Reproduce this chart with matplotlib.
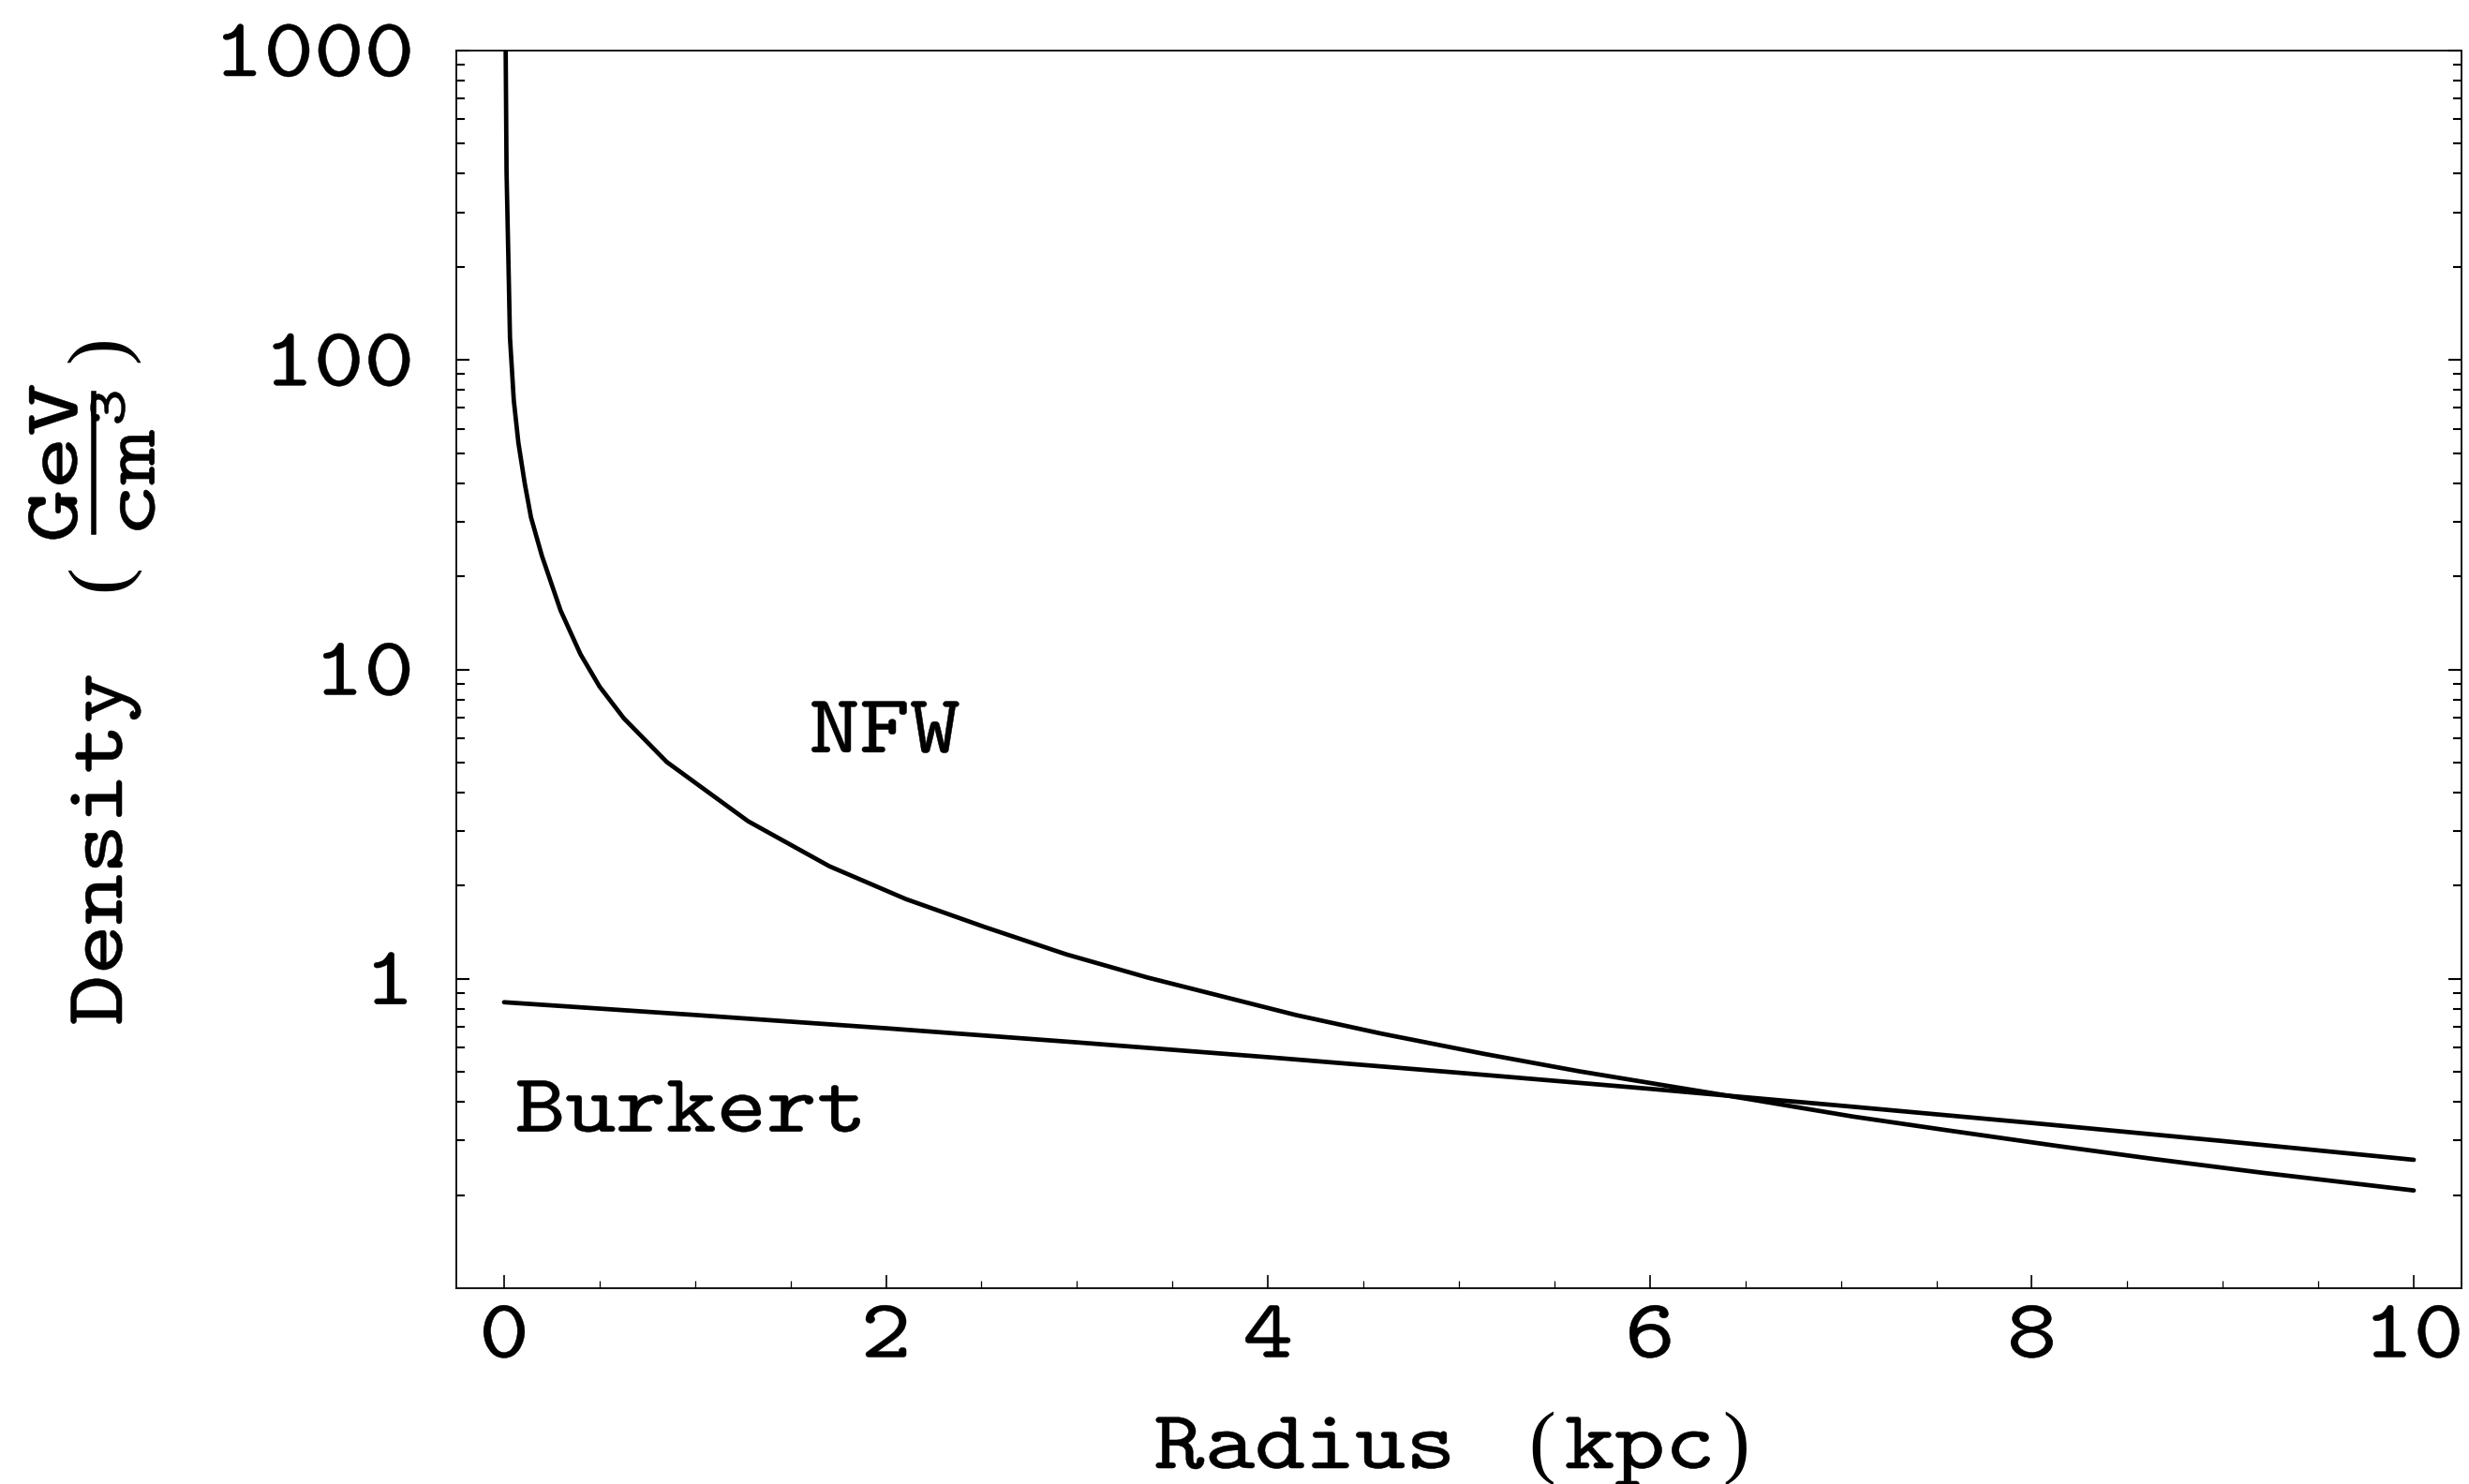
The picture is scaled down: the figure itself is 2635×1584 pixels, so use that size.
import numpy as np
import matplotlib
matplotlib.use("Agg")
import matplotlib.pyplot as plt
from matplotlib.lines import Line2D
from matplotlib.patheffects import AbstractPathEffect
from matplotlib.transforms import Affine2D

FONT = 'cmtt10'
plt.rcParams['font.family'] = [FONT, 'DejaVu Sans Mono']
plt.rcParams['mathtext.fontset'] = 'custom'
plt.rcParams['mathtext.rm'] = FONT
plt.rcParams['mathtext.tt'] = FONT
plt.rcParams['mathtext.it'] = FONT
plt.rcParams['axes.unicode_minus'] = False

# density profiles, radius in kpc, density in GeV/cm^3
nfw_r = [0.008, 0.013, 0.023, 0.031, 0.051, 0.075, 0.108, 0.141, 0.198, 0.296,
         0.40, 0.50, 0.627, 0.852, 1.278, 1.704, 2.104, 2.517, 2.943, 3.368,
         3.787, 4.145, 4.594, 5.132, 5.625, 6.119, 6.523, 7.06, 7.555, 8.138,
         8.63, 9.21, 10.0]
nfw_rho = [1100, 406, 206, 118, 74, 54, 40, 31, 23.3, 15.5,
           11.2, 8.8, 6.95, 5.02, 3.23, 2.31, 1.81, 1.47, 1.20, 1.01,
           0.869, 0.764, 0.665, 0.572, 0.503, 0.448, 0.408, 0.359, 0.324, 0.288,
           0.262, 0.236, 0.207]

burkert_r = [0, 1, 2, 3, 4, 5, 6, 7, 8, 9, 10]
burkert_rho = [0.840, 0.764, 0.692, 0.623, 0.558, 0.497, 0.441, 0.389, 0.342, 0.299, 0.260]

x_major = [0, 2, 4, 6, 8, 10]
y_major = [1, 10, 100, 1000]
y_labels = ['1', '10', '100', '1000']


class Widen(AbstractPathEffect):
    """Stretch glyph outlines along the text direction and thicken them a little."""

    def __init__(self, sx=1.15, anchor='left', weight=0.35):
        super().__init__()
        self.sx = sx
        self.anchor = anchor
        self.weight = weight

    def draw_path(self, renderer, gc, tpath, affine, rgbFace=None):
        ext = tpath.get_extents()
        xa = {'left': ext.x0, 'center': 0.5 * (ext.x0 + ext.x1), 'right': ext.x1}[self.anchor]
        stretch = Affine2D().translate(-xa, 0).scale(self.sx, 1).translate(xa, 0)
        gc0 = renderer.new_gc()
        gc0.copy_properties(gc)
        gc0.set_linewidth(self.weight)
        renderer.draw_path(gc0, tpath, stretch + affine, rgbFace)
        gc0.restore()


W, H = 2635, 1584
FS = 64
fig = plt.figure(figsize=(W / 100, H / 100), dpi=100)
ax = fig.add_axes([487 / W, 1 - 1375 / H, 2140 / W, 1321 / H])

ax.plot(nfw_r, nfw_rho, color='black', lw=3.4, solid_capstyle='round')
ax.plot(burkert_r, burkert_rho, color='black', lw=3.4, solid_capstyle='round')

ax.set_yscale('log')
ax.set_xlim(-0.25, 10.25)
ax.set_ylim(0.1, 1000)

ax.set_xticks(x_major)
ax.set_xticks(np.arange(0, 10.01, 0.5), minor=True)
ax.set_yticks(y_major)
ax.set_yticklabels(y_labels)
ax.set_yticks([m * 10.0 ** e for e in range(-1, 3) for m in range(2, 10)], minor=True)
ax.yaxis.set_minor_formatter(matplotlib.ticker.NullFormatter())

for s in ax.spines.values():
    s.set_linewidth(1.3)

ax.tick_params(axis='x', which='both', direction='in', top=False, labelsize=FS, pad=14)
ax.tick_params(axis='x', which='major', length=10, width=1.2)
ax.tick_params(axis='x', which='minor', length=6, width=0.9)
ax.tick_params(axis='y', which='both', direction='in', left=True, right=True,
               labelsize=FS, pad=33)
ax.tick_params(axis='y', which='major', length=10, width=1.5)
ax.tick_params(axis='y', which='minor', length=6.5, width=1.5)

for lbl in ax.get_xticklabels():
    lbl.set_path_effects([Widen(anchor='center')])
for lbl in ax.get_yticklabels():
    lbl.set_path_effects([Widen(anchor='right')])

left_fx = [Widen(anchor='left')]
ax.text(1.60, 5.40, 'NFW', fontsize=FS, ha='left', va='baseline', path_effects=left_fx)
ax.text(0.06, 0.321, 'Burkert', fontsize=FS, ha='left', va='baseline', path_effects=left_fx)

# x axis title, pieced together so the brackets can use a taller face
paren = dict(family='Liberation Serif', fontsize=62, ha='center', va='baseline')
fig.text(1232 / W, 1 - 1567 / H, 'Radius', fontsize=FS, ha='left', va='baseline',
         path_effects=left_fx)
fig.text(1646 / W, 1 - 1566 / H, '(', **paren)
fig.text(1670 / W, 1 - 1567 / H, 'kpc', fontsize=FS, ha='left', va='baseline',
         path_effects=left_fx)
fig.text(1853 / W, 1 - 1566 / H, ')', **paren)

# y axis title: Density (GeV / cm^3)
rot = dict(rotation=90, rotation_mode='anchor')
fig.text(130 / W, 1 - 1094 / H, 'Density', fontsize=FS, ha='left', va='baseline',
         path_effects=left_fx, **rot)
fig.text(109 / W, 1 - 617 / H, '(', family='Liberation Serif', fontsize=62,
         ha='center', va='center', **rot)
fig.text(109 / W, 1 - 373 / H, ')', family='Liberation Serif', fontsize=62,
         ha='center', va='center', **rot)
frac_fx = [Widen(sx=1.3, anchor='center')]
fig.text(82 / W, 1 - 494 / H, 'GeV', fontsize=60, ha='center', va='baseline',
         path_effects=frac_fx, **rot)
fig.text(165 / W, 1 - 494 / H, r'cm$^3$', fontsize=60, ha='center', va='baseline',
         path_effects=frac_fx, **rot)
fig.add_artist(Line2D([100 / W, 100 / W], [1 - 420 / H, 1 - 568 / H],
                      transform=fig.transFigure, color='black', lw=4))

fig.savefig('out.png', dpi=100)
